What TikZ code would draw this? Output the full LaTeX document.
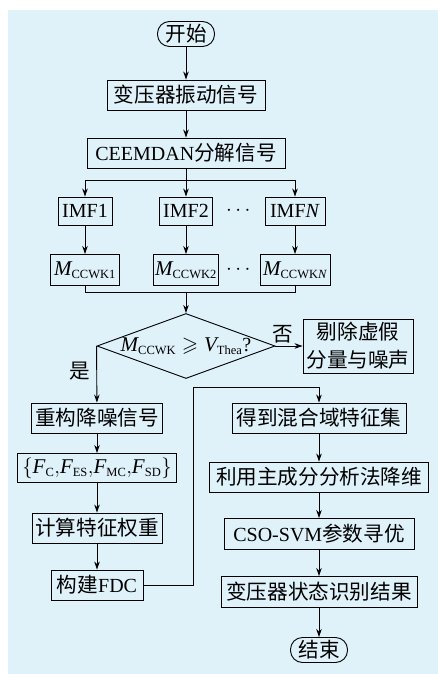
\documentclass[tikz,border=0pt]{standalone}
\usepackage{amsmath,amssymb}
\usepackage{fontspec}
\setmainfont{Liberation Serif}
\newfontfamily\cjk[Scale=1.03]{Noto Sans CJK SC}
\DeclareMathSizes{20}{21}{12.5}{10}
\usepackage{tikz}
\usetikzlibrary{shapes.geometric,arrows.meta}
\definecolor{bgblue}{RGB}{223,241,249}

\begin{document}
\begin{tikzpicture}[x=1pt,y=-1pt,line width=0.9pt,>={Stealth[length=8pt,width=5.5pt]},
every node/.style={font=\fontsize{20}{28}\selectfont},
box/.style={draw, inner xsep=2pt, inner ysep=1pt, minimum height=30pt},
term/.style={draw, rounded corners=12pt, minimum width=57pt, minimum height=25pt, inner sep=1pt}]
\fill[bgblue] (8,10) rectangle (438,674);
\useasboundingbox (0,0) rectangle (438,674);

\node[term] (start) at (186,34){\cjk 开始};
\node[box, minimum width=158pt] (sig) at (186,95){\cjk 变压器振动信号};
\node[box, minimum width=198pt] (ceem) at (186,153){CEEMDAN{\cjk 分解信号}};
\node[box, minimum width=54pt, minimum height=28pt] (imf1) at (85,211){IMF1};
\node[box, minimum width=53pt, minimum height=28pt] (imf2) at (186,211){IMF2};
\node (dots1) at (240,211){$\cdots$};
\node[box, minimum width=60pt, minimum height=28pt] (imfn) at (295,211){IMF\textit{N}};
\node[box, minimum width=69pt, minimum height=31pt] (m1) at (85,270){$\mathit{M}_{\mathrm{CCWK1}}$};
\node[box, minimum width=64pt, minimum height=31pt] (m2) at (186,270){$\mathit{M}_{\mathrm{CCWK2}}$};
\node (dots2) at (240,270){$\cdots$};
\node[box, minimum width=70pt, minimum height=31pt] (mn) at (295,270){$\mathit{M}_{\mathrm{CCWK}\mathit{N}}$};
\node[draw, diamond, aspect=2.74, inner sep=-7pt, minimum width=178pt, minimum height=65pt] (dec) at (186,346){$\mathit{M}_{\mathrm{CCWK}}\geqslant \mathit{V}_{\mathrm{Thea}}$?};
\node[box, minimum width=110pt, minimum height=54pt, align=center] (rem) at (358,346){\cjk 剔除虚假\\\cjk 分量与噪声};
\node (no) at (283,334){\cjk 否};
\node (yes) at (80,371){\cjk 是};

\node[box, minimum width=131pt] (rec) at (97,418){\cjk 重构降噪信号};
\node[box, minimum width=159pt, minimum height=29pt] (fset) at (97,468){$\{\mathit{F}_{\mathrm{C}}{,}\mathit{F}_{\mathrm{ES}}{,}\mathit{F}_{\mathrm{MC}}{,}\mathit{F}_{\mathrm{SD}}\}$};
\node[box, minimum width=130pt] (wt) at (97,528){\cjk 计算特征权重};
\node[box, minimum width=92pt] (fdc) at (97,585){{\cjk 构建}FDC};

\node[box, minimum width=174pt] (mix) at (319,418){\cjk 得到混合域特征集};
\node[box, minimum width=219pt] (pca) at (319,477){\cjk 利用主成分分析法降维};
\node[box, minimum width=190pt, minimum height=31pt] (cso) at (319,534){CSO-SVM{\cjk 参数寻优}};
\node[box, minimum width=196pt, minimum height=31pt] (res) at (319,592){\cjk 变压器状态识别结果};
\node[term] (fin) at (319,650){\cjk 结束};

\coordinate (split) at (186,180);
\coordinate (merge) at (186,292);
\coordinate (turn) at (193,387);

\foreach \from/\to in
{start/sig,sig/ceem,imf1/m1,imf2/m2,imfn/mn,rec/fset,fset/wt,wt/fdc,mix/pca,pca/cso,cso/res,res/fin}
\draw[->] (\from) -- (\to);
\draw (ceem) -- (split);
\foreach \to in {imf1,imf2,imfn}
\draw[->] (split) -| (\to);
\draw (m1) |- (merge);
\draw (mn) |- (merge);
\draw[->] (merge) -- (dec);
\draw[->] (dec.east) -- (rem);
\draw[->] (dec.west) -- (rec);
\draw[->] (fdc.east) -| (turn) -| (mix);
\end{tikzpicture}
\end{document}
